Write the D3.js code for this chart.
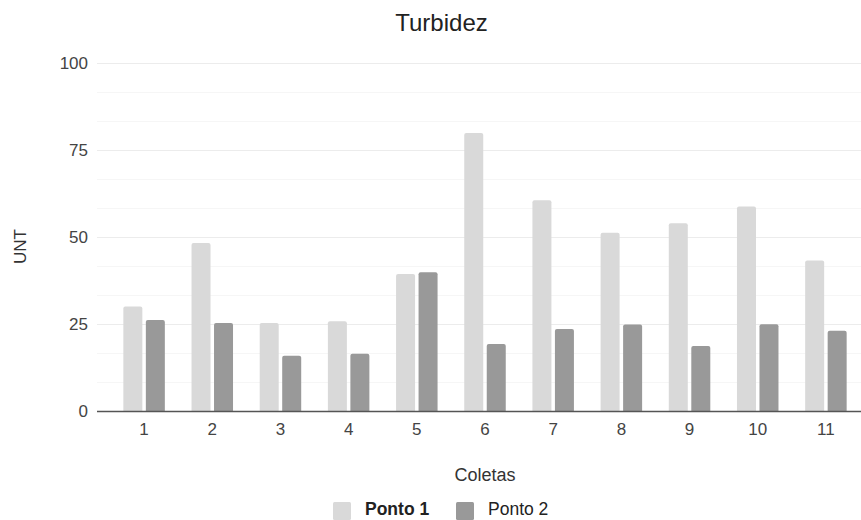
<!DOCTYPE html>
<html>
<head>
<meta charset="utf-8">
<script src="https://cdn.jsdelivr.net/npm/d3@7"></script>
<style>
  html, body { margin: 0; padding: 0; background: #fff; }
  svg { display: block; font-family: "Liberation Sans", Arial, sans-serif; }
</style>
</head>
<body>
<svg id="chart" width="861" height="520"></svg>
<script>
// Turbidity readings (UNT) per sampling campaign at two points
const coletas = ["1", "2", "3", "4", "5", "6", "7", "8", "9", "10", "11"];
const ponto1 = [30.2, 48.4, 25.4, 25.9, 39.5, 80.0, 60.7, 51.4, 54.1, 58.9, 43.4];
const ponto2 = [26.3, 25.4, 16.0, 16.6, 40.0, 19.4, 23.7, 25.0, 18.8, 25.1, 23.2];
const seriesNames = ["Ponto 1", "Ponto 2"];
const seriesColors = ["#d9d9d9", "#999999"];
const yTicks = [0, 25, 50, 75, 100];

const svg = d3.select("#chart");
const plot = { left: 97, right: 861, top: 63.5, bottom: 411.5 };
const font = "Liberation Sans, Arial, sans-serif";

const x = d3.scaleBand().domain(coletas).range([110, 860]).paddingInner(0).paddingOuter(0);
const y = d3.scaleLinear().domain([0, 100]).range([plot.bottom, plot.top]);

// Minor gridlines (every 25/3) and major gridlines
const minor = d3.range(0, 12).map(i => i * 100 / 12).filter(v => v % 25 !== 0);
svg.append("g").selectAll("line").data(minor).join("line")
  .attr("x1", plot.left).attr("x2", plot.right)
  .attr("y1", d => y(d)).attr("y2", d => y(d))
  .attr("stroke", "#f6f6f6").attr("stroke-width", 1);
svg.append("g").selectAll("line").data(yTicks.filter(v => v > 0)).join("line")
  .attr("x1", plot.left).attr("x2", plot.right)
  .attr("y1", d => y(d)).attr("y2", d => y(d))
  .attr("stroke", "#ececec").attr("stroke-width", 1);

// Y axis labels
const yAxis = d3.axisLeft(y).tickValues(yTicks).tickSize(0).tickPadding(9);
const gy = svg.append("g").attr("transform", `translate(${plot.left},0)`).call(yAxis);
gy.select(".domain").remove();
gy.selectAll("text").attr("font-size", 17).attr("fill", "#444").attr("font-family", font);

// Bars
const rows = coletas.map((c, i) => ({ c, vals: [ponto1[i], ponto2[i]] }));
const barW = 19, gap = 3.5;
const groupW = barW * 2 + gap;
const xs = d3.scaleOrdinal().domain([0, 1]).range([0, barW + gap]);

function topRounded(x0, y0, w, h, r) {
  r = Math.min(r, h);
  return `M${x0},${y0 + h}V${y0 + r}Q${x0},${y0} ${x0 + r},${y0}H${x0 + w - r}Q${x0 + w},${y0} ${x0 + w},${y0 + r}V${y0 + h}Z`;
}

const groups = svg.append("g").selectAll("g").data(rows).join("g")
  .attr("transform", d => `translate(${x(d.c) + x.bandwidth() / 2 - groupW / 2},0)`);
groups.selectAll("path").data(d => d.vals.map((v, k) => ({ v, k }))).join("path")
  .attr("d", d => topRounded(xs(d.k), y(d.v), barW, y(0) - y(d.v), 2))
  .attr("fill", d => seriesColors[d.k]);

// Baseline
svg.append("line")
  .attr("x1", plot.left).attr("x2", plot.right)
  .attr("y1", y(0)).attr("y2", y(0))
  .attr("stroke", "#555").attr("stroke-width", 1.3);

// X axis labels
const xAxis = d3.axisBottom(x).tickSize(0).tickPadding(11);
const gx = svg.append("g").attr("transform", `translate(0,${y(0)})`).call(xAxis);
gx.select(".domain").remove();
gx.selectAll("text").attr("font-size", 17).attr("fill", "#444").attr("font-family", font);

// Title and axis titles
svg.append("text").attr("x", 441.5).attr("y", 31).attr("text-anchor", "middle")
  .attr("font-size", 24).attr("fill", "#222").text("Turbidez");
svg.append("text").attr("transform", "translate(25.5,246.5) rotate(-90)")
  .attr("text-anchor", "middle").attr("font-size", 17).attr("fill", "#333").text("UNT");
svg.append("text").attr("x", 485).attr("y", 481).attr("text-anchor", "middle")
  .attr("font-size", 18).attr("fill", "#333").text("Coletas");

// Legend
const legend = svg.append("g");
const legendItems = [
  { name: seriesNames[0], color: seriesColors[0], x: 333, bold: true },
  { name: seriesNames[1], color: seriesColors[1], x: 456, bold: false }
];
legendItems.forEach(it => {
  legend.append("rect").attr("x", it.x).attr("y", 502).attr("width", 18).attr("height", 18)
    .attr("rx", 1.5).attr("fill", it.color);
  legend.append("text").attr("x", it.x + 32).attr("y", 515)
    .attr("font-size", 17.5).attr("fill", "#222")
    .attr("font-weight", it.bold ? "bold" : "normal").text(it.name);
});
</script>
</body>
</html>
